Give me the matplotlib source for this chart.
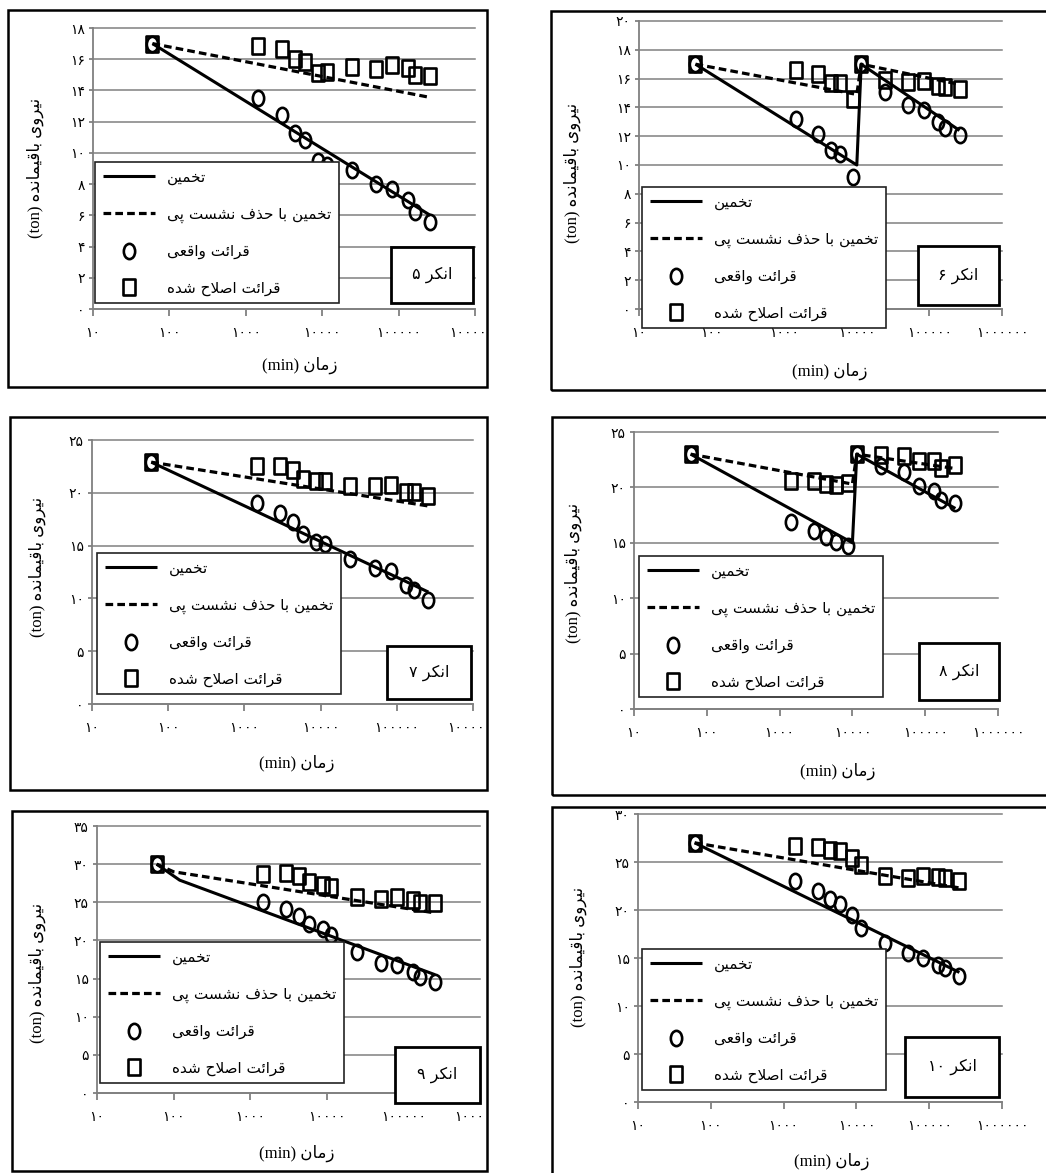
import numpy as np
import matplotlib
matplotlib.use("Agg")
import matplotlib.pyplot as plt
from matplotlib.patches import Rectangle
from matplotlib.path import Path
from matplotlib.transforms import Affine2D, Bbox, TransformedBbox
from matplotlib.ticker import NullLocator

plt.rcParams['font.family'] = ['DejaVu Sans']

# reading times (min); the first reading is shared by every anchor
t_start = 60
t_read = [1450, 2950, 4350, 5900, 8800, 11500, 24500, 51300, 83000, 132000, 166000, 260000]

anchor_no = [5, 6, 7, 8, 9, 10]
y_max = [18, 20, 25, 25, 35, 30]
y_step = [2, 2, 5, 5, 5, 5]
start_load = [17, 17, 22.9, 23, 30, 27]

# measured load (ton)
read_5 = [13.5, 12.4, 11.3, 10.8, 9.45, 9.25, 8.9, 8.0, 7.7, 7.0, 6.2, 5.55]
read_6 = [13.2, 12.15, 11.05, 10.75, 9.2, 17.0, 15.1, 14.2, 13.8, 13.0, 12.6, 12.1]
read_7 = [19.0, 18.1, 17.25, 16.1, 15.35, 15.15, 13.75, 12.9, 12.55, 11.25, 10.75, 9.85]
read_8 = [16.9, 16.1, 15.5, 15.1, 14.7, 23.0, 21.9, 21.35, 20.1, 19.7, 18.9, 18.6]
read_9 = [25.0, 24.1, 23.2, 22.2, 21.5, 20.7, 18.45, 17.0, 16.8, 15.9, 15.2, 14.6]
read_10 = [23.0, 22.0, 21.1, 20.6, 19.5, 18.1, 16.55, 15.5, 15.05, 14.3, 13.95, 13.1]

# corrected load (ton)
corr_5 = [16.85, 16.65, 16.0, 15.85, 15.1, 15.2, 15.5, 15.35, 15.65, 15.45, 15.0, 14.9]
corr_6 = [16.6, 16.3, 15.7, 15.7, 14.6, 17.0, 15.9, 15.75, 15.8, 15.5, 15.4, 15.3]
corr_7 = [22.55, 22.55, 22.15, 21.3, 21.1, 21.1, 20.6, 20.65, 20.75, 20.1, 20.1, 19.65]
corr_8 = [20.55, 20.55, 20.35, 20.25, 20.4, 23.0, 22.95, 22.8, 22.35, 22.35, 21.75, 22.0]
corr_9 = [28.7, 28.8, 28.45, 27.6, 27.3, 27.05, 25.75, 25.4, 25.65, 25.3, 24.9, 24.95]
corr_10 = [26.65, 26.6, 26.25, 26.1, 25.4, 24.7, 23.55, 23.3, 23.55, 23.4, 23.3, 23.05]

# estimate (solid) and estimate without settlement (dashed)
fit_t_5, fit_5 = [60, 260000], [17, 6.0]
nos_t_5, nos_5 = [60, 260000], [17, 13.55]
fit_t_6, fit_6 = [60, 10000, 11500, 260000], [17, 10.0, 17, 12.4]
nos_t_6, nos_6 = [60, 10000, 11500, 260000], [17, 14.9, 17, 15.6]
fit_t_7, fit_7 = [60, 260000], [22.9, 10.6]
nos_t_7, nos_7 = [60, 260000], [22.9, 18.75]
fit_t_8, fit_8 = [60, 10000, 11500, 260000], [23, 15.0, 23, 18.1]
nos_t_8, nos_8 = [60, 10000, 11500, 260000], [23, 20.3, 23, 21.7]
fit_t_9, fit_9 = [60, 120, 260000], [30, 27.9, 15.5]
nos_t_9, nos_9 = [60, 100, 260000], [30, 29.0, 23.6]
fit_t_10, fit_10 = [60, 260000], [27, 13.5]
nos_t_10, nos_10 = [60, 260000], [27, 22.3]

x_ticks = [10, 100, 1000, 10000, 100000, 1000000]

# Arabic letter forms: isolated, final, initial, medial
FORMS = {
    'ا': ('\uFE8D', '\uFE8E', None, None),
    'ب': ('\uFE8F', '\uFE90', '\uFE91', '\uFE92'),
    'ت': ('\uFE95', '\uFE96', '\uFE97', '\uFE98'),
    'ح': ('\uFEA1', '\uFEA2', '\uFEA3', '\uFEA4'),
    'خ': ('\uFEA5', '\uFEA6', '\uFEA7', '\uFEA8'),
    'د': ('\uFEA9', '\uFEAA', None, None),
    'ذ': ('\uFEAB', '\uFEAC', None, None),
    'ر': ('\uFEAD', '\uFEAE', None, None),
    'ز': ('\uFEAF', '\uFEB0', None, None),
    'س': ('\uFEB1', '\uFEB2', '\uFEB3', '\uFEB4'),
    'ش': ('\uFEB5', '\uFEB6', '\uFEB7', '\uFEB8'),
    'ص': ('\uFEB9', '\uFEBA', '\uFEBB', '\uFEBC'),
    'ع': ('\uFEC9', '\uFECA', '\uFECB', '\uFECC'),
    'ف': ('\uFED1', '\uFED2', '\uFED3', '\uFED4'),
    'ق': ('\uFED5', '\uFED6', '\uFED7', '\uFED8'),
    'ل': ('\uFEDD', '\uFEDE', '\uFEDF', '\uFEE0'),
    'م': ('\uFEE1', '\uFEE2', '\uFEE3', '\uFEE4'),
    'ن': ('\uFEE5', '\uFEE6', '\uFEE7', '\uFEE8'),
    'ه': ('\uFEE9', '\uFEEA', '\uFEEB', '\uFEEC'),
    'و': ('\uFEED', '\uFEEE', None, None),
    'ئ': ('\uFE89', '\uFE8A', '\uFE8B', '\uFE8C'),
    'پ': ('\uFB56', '\uFB57', '\uFB58', '\uFB59'),
    'ک': ('\uFB8E', '\uFB8F', '\uFB90', '\uFB91'),
    'ی': ('\uFBFC', '\uFBFD', '\uFBFE', '\uFBFF'),
}


def joins_next(c):
    return c in FORMS and FORMS[c][2] is not None


def fa(text):
    # shape Persian letters and put them in visual (left-to-right) order
    out = []
    i = 0
    while i < len(text):
        c = text[i]
        if c not in FORMS:
            out.append(c)
            i += 1
            continue
        prev = text[i - 1] if i > 0 else ''
        linked = joins_next(prev)
        if c == 'ل' and i + 1 < len(text) and text[i + 1] == 'ا':
            out.append('\uFEFC' if linked else '\uFEFB')
            i += 2
            continue
        nxt = text[i + 1] if i + 1 < len(text) else ''
        iso, fin, ini, med = FORMS[c]
        forward = nxt in FORMS and ini is not None
        if linked and forward:
            out.append(med)
        elif linked:
            out.append(fin)
        elif forward:
            out.append(ini)
        else:
            out.append(iso)
        i += 1
    return ''.join(reversed(out))


def fa_num(v):
    return str(v).translate(str.maketrans('0123456789', '۰۱۲۳۴۵۶۷۸۹'))


W, H = 1046, 1173
fig = plt.figure(figsize=(W / 100, H / 100), dpi=100)


def fx(x):
    return x / W


def fy(y):
    return 1 - y / H


# panel geometry in pixels
frames = [(8, 10, 487, 387), (551, 11, 1052, 390), (10, 417, 487, 790),
          (552, 417, 1052, 795), (12, 811, 487, 1171), (552, 807, 1052, 1180)]
plot_boxes = [(93, 28, 475, 309), (639, 21, 1002, 309), (92, 440, 473, 704),
              (634, 432, 998, 709), (97, 826, 480, 1093), (638, 814, 1002, 1102)]
legend_corner = [(95, 162), (642, 187), (97, 553), (639, 556), (100, 942), (642, 949)]
tag_boxes = [(391, 247, 473, 303), (918, 246, 999, 305), (387, 646, 471, 699),
             (919, 643, 999, 700), (395, 1047, 480, 1103), (905, 1037, 999, 1097)]
xlabel_at = [(300, 365), (830, 371), (297, 763), (838, 771), (297, 1153), (832, 1161)]
ylabel_at = [(35, 168), (572, 173), (37, 567), (573, 573), (37, 973), (578, 957)]

readings = [read_5, read_6, read_7, read_8, read_9, read_10]
corrected = [corr_5, corr_6, corr_7, corr_8, corr_9, corr_10]
fits = [(fit_t_5, fit_5), (fit_t_6, fit_6), (fit_t_7, fit_7),
        (fit_t_8, fit_8), (fit_t_9, fit_9), (fit_t_10, fit_10)]
no_settle = [(nos_t_5, nos_5), (nos_t_6, nos_6), (nos_t_7, nos_7),
             (nos_t_8, nos_8), (nos_t_9, nos_9), (nos_t_10, nos_10)]

# tall open markers
ellipse = Path.unit_circle().transformed(Affine2D().scale(0.74, 1.0))
box = Path([(-0.74, -1), (0.74, -1), (0.74, 1), (-0.74, 1), (-0.74, -1)],
           [Path.MOVETO, Path.LINETO, Path.LINETO, Path.LINETO, Path.CLOSEPOLY])

lbl_fit = fa('تخمین')
lbl_nos = fa('تخمین با حذف نشست پی')
lbl_read = fa('قرائت واقعی')
lbl_corr = fa('قرائت اصلاح شده')
xlab = '(min) ' + fa('زمان')
ylab = '(ton) ' + fa('نیروی باقیمانده')
mixed = ['Liberation Serif', 'DejaVu Sans']
grey = '#808080'

for k in range(6):
    l, t, r, b = plot_boxes[k]
    ax = fig.add_axes([fx(l), fy(b), (r - l) / W, (b - t) / H])
    ax.set_facecolor('none')

    times = [t_start] + t_read
    circ = [start_load[k]] + readings[k]
    sq = [start_load[k]] + corrected[k]

    ax.plot(fits[k][0], fits[k][1], color='black', lw=2.2, label=lbl_fit,
            solid_capstyle='butt', zorder=3)
    ax.plot(no_settle[k][0], no_settle[k][1], color='black', lw=2.3,
            dashes=(2.4, 1.3), label=lbl_nos, zorder=3)
    ax.plot(times, circ, ls='none', marker=ellipse, ms=11, mfc='none',
            mec='black', mew=1.9, label=lbl_read, zorder=4)
    ax.plot(times, sq, ls='none', marker=box, ms=11, mfc='none',
            mec='black', mew=1.9, label=lbl_corr, zorder=4)

    ax.set_xscale('log')
    ax.set_xlim(10, 1e6)
    ax.set_ylim(0, y_max[k])
    ax.set_xticks(x_ticks)
    ax.set_xticklabels([fa_num(v) for v in x_ticks])
    ax.xaxis.set_minor_locator(NullLocator())
    yt = list(range(0, y_max[k] + 1, y_step[k]))
    ax.set_yticks(yt)
    ax.set_yticklabels([fa_num(v) for v in yt])
    ax.yaxis.grid(True, color=grey, lw=1.1)
    for gl in ax.get_ygridlines():
        gl.set_clip_on(False)
    ax.set_axisbelow(True)
    for side in ['top', 'right']:
        ax.spines[side].set_visible(False)
    for side in ['left', 'bottom']:
        ax.spines[side].set_color(grey)
        ax.spines[side].set_linewidth(1.3)
    ax.tick_params(axis='x', direction='out', length=5, width=1.3, color=grey,
                   pad=7, labelsize=10)
    ax.tick_params(axis='y', direction='out', length=3, width=1.3, color=grey,
                   pad=3, labelsize=10)

    fl, ft, fr, fb = frames[k]
    clip = TransformedBbox(Bbox([[fx(fl), fy(fb)], [fx(fr), fy(ft)]]), fig.transFigure)
    for lab in ax.get_xticklabels():
        lab.set_clip_box(clip)
        lab.set_clip_on(True)

    lx, ly = legend_corner[k]
    leg = ax.legend(loc='upper left', bbox_to_anchor=(fx(lx), fy(ly)),
                    bbox_transform=fig.transFigure, borderaxespad=0,
                    fontsize=11, numpoints=1, handlelength=3.4,
                    handletextpad=0.8, labelspacing=1.4, borderpad=0.5,
                    fancybox=False, framealpha=1, edgecolor='#222222')
    leg.get_frame().set_linewidth(1.2)
    leg.set_zorder(6)

    # outer frame of the panel
    fig.add_artist(Rectangle((fx(fl), fy(fb)), (fr - fl) / W, (fb - ft) / H,
                             transform=fig.transFigure, fill=False,
                             ec='black', lw=1.8, zorder=8))

    # anchor tag
    bl, bt, br, bb = tag_boxes[k]
    fig.add_artist(Rectangle((fx(bl), fy(bb)), (br - bl) / W, (bb - bt) / H,
                             transform=fig.transFigure, fc='white',
                             ec='black', lw=2.0, zorder=7))
    fig.text(fx((bl + br) / 2), fy((bt + bb) / 2),
             fa_num(anchor_no[k]) + ' ' + fa('انکر'),
             ha='center', va='center', fontsize=11.5, zorder=9)

    xx, xy = xlabel_at[k]
    fig.text(fx(xx), fy(xy), xlab, ha='center', va='center',
             fontsize=12, family=mixed)
    yx, yy = ylabel_at[k]
    fig.text(fx(yx), fy(yy), ylab, ha='center', va='center', rotation=90,
             fontsize=12, family=mixed)

fig.savefig('out.png', dpi=100)
